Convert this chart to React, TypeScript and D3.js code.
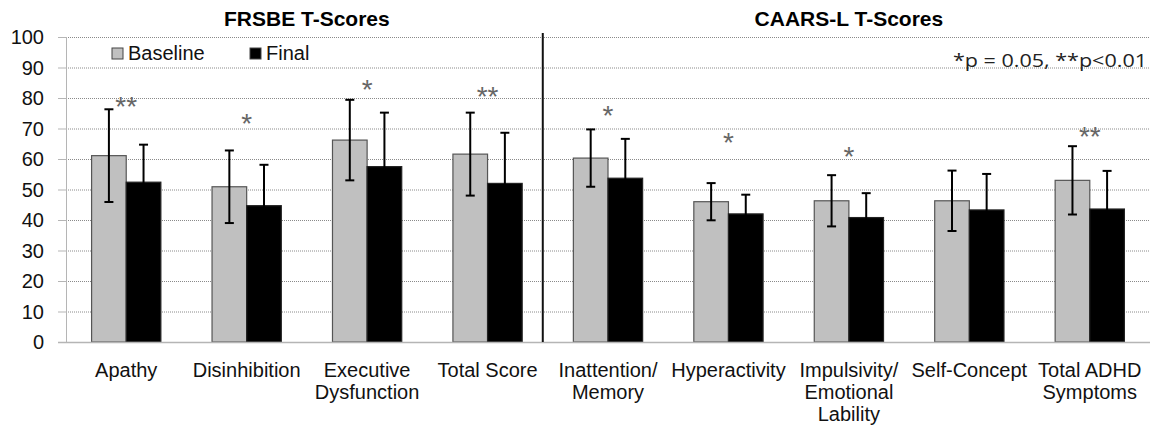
import { useRef, useEffect } from 'react'
import * as d3 from 'd3'

// values
const categories = [
  'Apathy',
  'Disinhibition',
  'Executive\nDysfunction',
  'Total Score',
  'Inattention/\nMemory',
  'Hyperactivity',
  'Impulsivity/\nEmotional\nLability',
  'Self-Concept',
  'Total ADHD\nSymptoms',
]
const seriesNames = ['Baseline', 'Final']
const baseline = [61.1, 50.9, 66.2, 61.6, 60.3, 46.0, 46.3, 46.3, 53.0]
const baselineErr = [15.2, 11.9, 13.2, 13.6, 9.4, 6.1, 8.4, 9.9, 11.2]
const finalScores = [52.4, 44.7, 57.5, 52.0, 53.7, 42.0, 40.8, 43.3, 43.6]
const finalErr = [12.3, 13.4, 17.7, 16.6, 12.9, 6.3, 8.0, 11.8, 12.5]
const sigLabels = ['**', '*', '*', '**', '*', '*', '*', '', '**']
const sigAt = [79.3, 73.8, 84.9, 82.6, 76.4, 67.5, 63.0, 0, 69.5]
const yTicks = [0, 10, 20, 30, 40, 50, 60, 70, 80, 90, 100]
const groups = [
  { title: 'FRSBE T-Scores', from: 0, to: 3 },
  { title: 'CAARS-L T-Scores', from: 4, to: 8 },
]

const FONT = "'Liberation Sans', Arial, sans-serif"

export default function App() {
  const svgRef = useRef<SVGSVGElement>(null)

  useEffect(() => {
    const svg = svgRef.current
    if (!svg) return
    const W = 1162
    const H = 428
    const margin = { top: 37, right: 12, bottom: 86, left: 66 }

    const sel = d3.select(svg)
    sel.selectAll('*').remove()
    sel.attr('width', W).attr('height', H)

    const x0 = d3.scaleBand<string>().domain(categories).range([margin.left, W - margin.right]).padding(0)
    const step = x0.step()
    const groupW = step * 0.575
    const x1 = d3.scaleBand<string>().domain(seriesNames)
      .range([(step - groupW) / 2, (step + groupW) / 2]).padding(0)
    const y = d3.scaleLinear().domain([0, 100]).range([H - margin.bottom, margin.top])

    const left = margin.left
    const right = W - margin.right

    // gridlines
    yTicks.filter((t) => t > 0).forEach((t) => {
      sel.append('line')
        .attr('x1', left).attr('x2', right)
        .attr('y1', y(t) + 0.5).attr('y2', y(t) + 0.5)
        .attr('stroke', '#8a8a8a').attr('stroke-width', 1)
        .attr('stroke-dasharray', '1,1')
    })

    // y axis
    sel.append('line')
      .attr('x1', left + 0.5).attr('x2', left + 0.5)
      .attr('y1', y(100)).attr('y2', y(0))
      .attr('stroke', '#b5b5b5').attr('stroke-width', 1)
    yTicks.forEach((t) => {
      sel.append('line')
        .attr('x1', left - 8).attr('x2', left)
        .attr('y1', y(t) + 0.5).attr('y2', y(t) + 0.5)
        .attr('stroke', '#b5b5b5').attr('stroke-width', 1)
      sel.append('text')
        .attr('x', 44).attr('y', y(t))
        .attr('text-anchor', 'end').attr('dominant-baseline', 'central')
        .attr('font-family', FONT).attr('font-size', '20px').attr('fill', '#111')
        .text(t)
    })

    // bars, each series followed by its error bars
    const series = [
      { name: 'Baseline', values: baseline, errs: baselineErr, fill: '#c0c0c0', stroke: '#555' },
      { name: 'Final', values: finalScores, errs: finalErr, fill: '#000', stroke: '#222' },
    ]
    series.forEach((s) => {
      categories.forEach((c, i) => {
        const bx = (x0(c) ?? 0) + (x1(s.name) ?? 0)
        sel.append('rect')
          .attr('x', bx).attr('y', y(s.values[i]))
          .attr('width', x1.bandwidth()).attr('height', y(0) - y(s.values[i]))
          .attr('fill', s.fill).attr('stroke', s.stroke).attr('stroke-width', 1.2)
      })
      categories.forEach((c, i) => {
        const cx = (x0(c) ?? 0) + (x1(s.name) ?? 0) + x1.bandwidth() / 2
        const hi = y(s.values[i] + s.errs[i])
        const lo = y(s.values[i] - s.errs[i])
        const g = sel.append('g').attr('stroke', '#000').attr('stroke-width', 2)
        g.append('line').attr('x1', cx).attr('x2', cx).attr('y1', hi).attr('y2', lo)
        g.append('line').attr('x1', cx - 4.5).attr('x2', cx + 4.5).attr('y1', hi).attr('y2', hi)
        g.append('line').attr('x1', cx - 4.5).attr('x2', cx + 4.5).attr('y1', lo).attr('y2', lo)
      })
    })

    // baseline axis
    sel.append('line')
      .attr('x1', left - 8).attr('x2', right)
      .attr('y1', y(0) + 0.5).attr('y2', y(0) + 0.5)
      .attr('stroke', '#b5b5b5').attr('stroke-width', 1.5)

    // significance stars
    categories.forEach((c, i) => {
      if (!sigLabels[i]) return
      sel.append('text')
        .attr('x', (x0(c) ?? 0) + step / 2)
        .attr('y', y(sigAt[i]) + 16)
        .attr('text-anchor', 'middle')
        .attr('font-family', FONT).attr('font-size', '28px').attr('fill', '#666')
        .text(sigLabels[i])
    })

    // divider between the two scales
    const divX = (x0(categories[4]) ?? 0) - 5
    sel.append('line')
      .attr('x1', divX).attr('x2', divX)
      .attr('y1', 33).attr('y2', y(0))
      .attr('stroke', '#111').attr('stroke-width', 2)

    // group titles
    groups.forEach((gr) => {
      const a = x0(categories[gr.from]) ?? 0
      const b = (x0(categories[gr.to]) ?? 0) + step
      sel.append('text')
        .attr('x', (a + b) / 2).attr('y', 26)
        .attr('text-anchor', 'middle')
        .attr('font-family', FONT).attr('font-size', '21px').attr('font-weight', 'bold')
        .attr('fill', '#000')
        .text(gr.title)
    })

    // x labels
    categories.forEach((c) => {
      const t = sel.append('text')
        .attr('x', (x0(c) ?? 0) + step / 2).attr('y', 377)
        .attr('text-anchor', 'middle')
        .attr('font-family', FONT).attr('font-size', '20px').attr('fill', '#111')
      c.split('\n').forEach((line, j) => {
        t.append('tspan')
          .attr('x', (x0(c) ?? 0) + step / 2)
          .attr('dy', j === 0 ? 0 : 22)
          .text(line)
      })
    })

    // legend
    const legend = [
      { name: 'Baseline', fill: '#c0c0c0', x: 112 },
      { name: 'Final', fill: '#000', x: 250 },
    ]
    legend.forEach((l) => {
      sel.append('rect')
        .attr('x', l.x).attr('y', 48).attr('width', 11).attr('height', 11)
        .attr('fill', l.fill).attr('stroke', '#444').attr('stroke-width', 1)
      sel.append('text')
        .attr('x', l.x + 16).attr('y', 60)
        .attr('font-family', FONT).attr('font-size', '20px').attr('fill', '#111')
        .text(l.name)
    })

    // p-value note
    sel.append('text')
      .attr('x', 1147).attr('y', 67)
      .attr('text-anchor', 'end')
      .attr('font-family', "'Open Sans', sans-serif").attr('font-size', '19px').attr('fill', '#222')
      .attr('textLength', 194).attr('lengthAdjust', 'spacingAndGlyphs')
      .text('*p = 0.05, **p<0.01')
  }, [])

  return (
    <svg
      ref={svgRef}
      style={{ position: 'absolute', left: 0, top: 0, display: 'block', background: '#fff' }}
    />
  )
}
